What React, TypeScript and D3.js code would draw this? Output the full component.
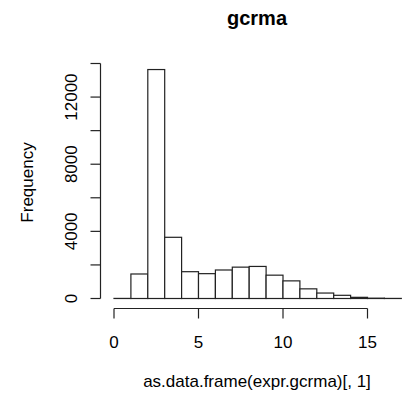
import React from "react";
import * as d3 from "d3";

const binStarts: number[] = [0, 1, 2, 3, 4, 5, 6, 7, 8, 9, 10, 11, 12, 13, 14, 15, 16];
const binWidth = 1;
const counts: number[] = [5, 1460, 13640, 3646, 1597, 1480, 1698, 1868, 1910, 1390, 1050, 575, 325, 190, 70, 20, 5];
const xTicks: number[] = [0, 5, 10, 15];
const yTicks: number[] = [0, 2000, 4000, 6000, 8000, 10000, 12000, 14000];
const yLabels: number[] = [0, 4000, 8000, 12000];
const title = "gcrma";
const xLabel = "as.data.frame(expr.gcrma)[, 1]";
const yLabel = "Frequency";

export default function App() {
  const W = 403, H = 394;
  const x = d3.scaleLinear().domain([0, 15]).range([114, 367.5]);
  const y = d3.scaleLinear().domain([0, 14000]).range([298.5, 63.5]);
  const axisY = 308.5;
  const axisX = 100.5;
  const tick = 10;
  const font = "'Liberation Sans', Arial, Helvetica, sans-serif";
  const col = "#222";
  return (
    <svg width={W} height={H} style={{ position: "absolute", left: 0, top: 0, background: "#fff" }}>
      <rect x={0} y={0} width={W} height={H} fill="#fff" />
      <text x={257} y={25} textAnchor="middle" fontFamily={font} fontWeight="bold" fontSize={20} fill="#000">{title}</text>
      {binStarts.map((b, i) => (
        <rect key={i} x={x(b)} y={y(counts[i])} width={x(b + binWidth) - x(b)} height={y(0) - y(counts[i])}
          fill="#fff" stroke={col} strokeWidth={1.2} />
      ))}
      {/* x axis */}
      <line x1={x(xTicks[0])} x2={x(xTicks[xTicks.length - 1])} y1={axisY} y2={axisY} stroke={col} strokeWidth={1.2} />
      {xTicks.map((t) => (
        <g key={t}>
          <line x1={x(t)} x2={x(t)} y1={axisY} y2={axisY + tick} stroke={col} strokeWidth={1.2} />
          <text x={x(t)} y={347.5} textAnchor="middle" fontFamily={font} fontSize={17} fill="#000">{t}</text>
        </g>
      ))}
      {/* y axis */}
      <line x1={axisX} x2={axisX} y1={y(yTicks[0])} y2={y(yTicks[yTicks.length - 1])} stroke={col} strokeWidth={1.2} />
      {yTicks.map((t) => (
        <line key={t} x1={axisX - tick} x2={axisX} y1={y(t)} y2={y(t)} stroke={col} strokeWidth={1.2} />
      ))}
      {yLabels.map((t) => (
        <text key={t} transform={`translate(77,${y(t)}) rotate(-90)`} textAnchor="middle" fontFamily={font} fontSize={17} fill="#000">{t}</text>
      ))}
      <text x={257} y={386.5} textAnchor="middle" fontFamily={font} fontSize={17} fill="#000">{xLabel}</text>
      <text transform={`translate(33,182.5) rotate(-90)`} textAnchor="middle" fontFamily={font} fontSize={17} fill="#000">{yLabel}</text>
    </svg>
  );
}
